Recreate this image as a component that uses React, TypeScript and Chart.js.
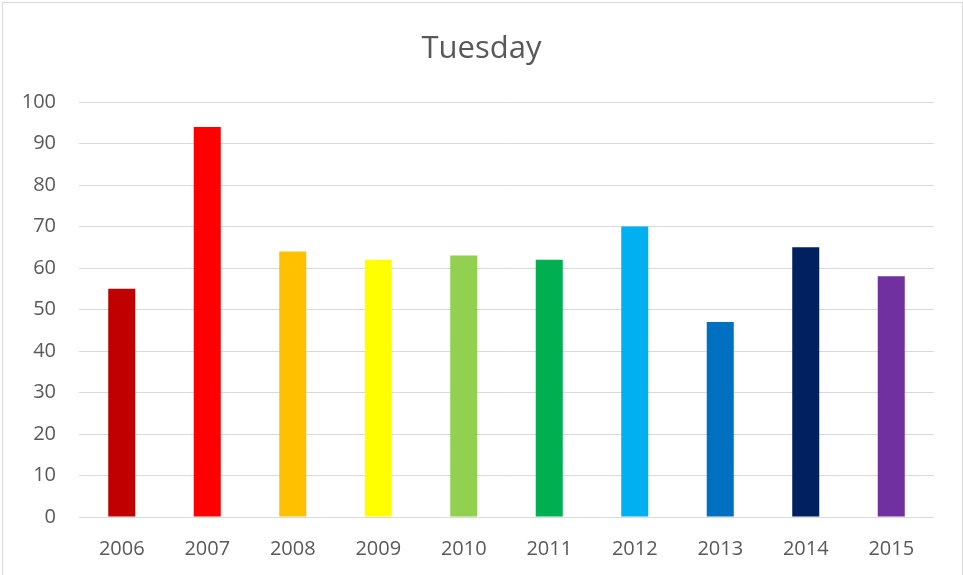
import React, { useEffect, useRef } from "react";
import { Chart, registerables } from "chart.js";

Chart.register(...registerables);

const title = "Tuesday";
const categories = ["2006", "2007", "2008", "2009", "2010", "2011", "2012", "2013", "2014", "2015"];
const values = [55, 94, 64, 62, 63, 62, 70, 47, 65, 58];
const barColors = ["#C00000", "#FF0000", "#FFC000", "#FFFF00", "#92D050", "#00B050", "#00B0F0", "#0070C0", "#002060", "#7030A0"];
const yMin = 0;
const yMax = 100;
const yStep = 10;

const FONT = "'Open Sans', 'Liberation Sans', sans-serif";
const TEXT = "#595959";
const GRID = "#d9d9d9";

export default function App() {
  const ref = useRef<HTMLCanvasElement | null>(null);

  useEffect(() => {
    if (!ref.current) return;
    const chart = new Chart(ref.current, {
      type: "bar",
      data: {
        labels: categories,
        datasets: [
          {
            label: title,
            data: values,
            backgroundColor: barColors,
            borderWidth: 0,
            categoryPercentage: 1,
            barPercentage: 0.316,
            yAxisID: "y",
          },
        ],
      },
      options: {
        animation: false,
        responsive: true,
        maintainAspectRatio: false,
        devicePixelRatio: 1,
        layout: { padding: 0 },
        plugins: {
          legend: { display: false },
          tooltip: { enabled: false },
          title: {
            display: true,
            text: title,
            color: TEXT,
            font: { family: FONT, size: 31, weight: "normal" },
            padding: { top: 30.5, bottom: 34.3 },
          },
        },
        scales: {
          x: {
            grid: { display: false, drawTicks: false },
            border: { display: false },
            ticks: {
              color: TEXT,
              font: { family: FONT, size: 20 },
              padding: 20,
              maxRotation: 0,
            },
            afterFit: (scale: any) => {
              scale.height = 58;
            },
          },
          y: {
            position: "left",
            min: yMin,
            max: yMax,
            grid: { color: GRID, lineWidth: 1, drawTicks: false },
            border: { display: false },
            ticks: {
              stepSize: yStep,
              color: TEXT,
              font: { family: FONT, size: 20 },
              padding: 23,
            },
            afterFit: (scale: any) => {
              scale.width = 79;
            },
          },
          yRight: {
            position: "right",
            min: yMin,
            max: yMax,
            grid: { display: false, drawTicks: false },
            border: { display: false },
            ticks: { display: false },
            afterFit: (scale: any) => {
              scale.width = 29;
            },
          },
        },
      },
    });
    return () => chart.destroy();
  }, []);

  return (
    <div style={{ position: "fixed", left: 0, top: 0, width: 963, height: 575, background: "#fff" }}>
      <canvas ref={ref} style={{ position: "absolute", left: 0, top: 0 }} />
      <div
        style={{
          position: "absolute",
          left: 2,
          top: 2,
          right: 0,
          bottom: -3,
          border: "1px solid #d9d9d9",
          pointerEvents: "none",
        }}
      />
    </div>
  );
}
